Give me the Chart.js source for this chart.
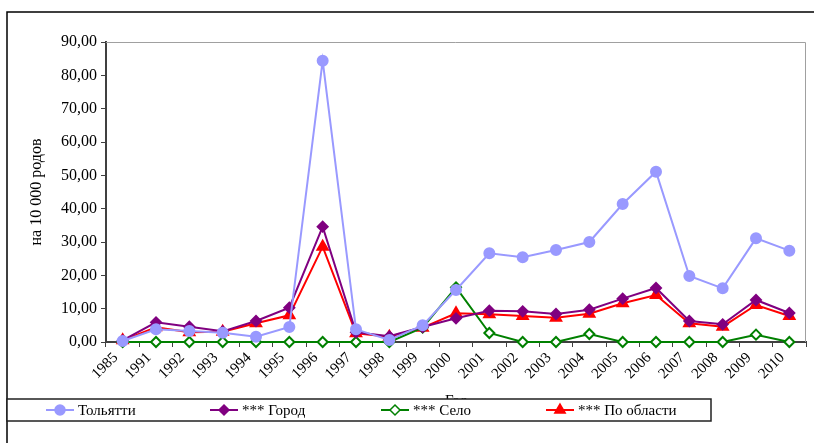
<!DOCTYPE html>
<html lang="ru">
<head>
    <meta charset="UTF-8">
    <title>Тольятти</title>
    <script src="https://cdn.jsdelivr.net/npm/chart.js"></script>
    <style>
        body { margin: 0; background: #fff; }
        canvas { display: block; }
    </style>
</head>
<body>
    <canvas id="chart" width="814" height="443"></canvas>

    <script>
        const years = ['1985', '1991', '1992', '1993', '1994', '1995', '1996', '1997', '1998', '1999',
                       '2000', '2001', '2002', '2003', '2004', '2005', '2006', '2007', '2008', '2009', '2010'];

        const tolyatti = [0.3, 3.8, 3.3, 2.8, 1.6, 4.5, 84.4, 3.8, 0.6, 5.0,
                          15.6, 26.6, 25.4, 27.6, 30.0, 41.4, 51.1, 19.8, 16.1, 31.1, 27.4];
        const gorod = [0.5, 5.9, 4.6, 3.2, 6.3, 10.3, 34.6, 2.9, 1.7, 4.5,
                       7.1, 9.4, 9.2, 8.4, 9.7, 13.0, 16.2, 6.3, 5.3, 12.6, 8.7];
        const selo = [0, 0, 0, 0, 0, 0, 0, 0, 0, 4.3,
                      16.4, 2.7, 0, 0, 2.4, 0, 0, 0, 0, 2.2, 0];
        const oblast = [0.5, 4.4, 2.9, 3.1, 5.6, 8.0, 28.6, 2.6, 1.6, 4.3,
                        8.6, 8.3, 7.8, 7.3, 8.5, 11.6, 14.1, 5.6, 4.6, 11.1, 7.8];

        const yMin = 0, yMax = 90, yStep = 10;

        const serif = 'Liberation Serif';

        // рамка области построения (серая сверху и справа)
        const frame = {
            id: 'frame',
            beforeDatasetsDraw(chart) {
                const { ctx, chartArea: a } = chart;
                ctx.save();
                ctx.strokeStyle = '#a0a0a0';
                ctx.lineWidth = 1;
                ctx.beginPath();
                ctx.moveTo(a.left, a.top + 0.5);
                ctx.lineTo(a.right - 0.5, a.top + 0.5);
                ctx.lineTo(a.right - 0.5, a.bottom);
                ctx.stroke();
                ctx.restore();
            },
            afterDraw(chart) {
                const ctx = chart.ctx;
                ctx.save();
                // внешняя рамка
                ctx.strokeStyle = '#000';
                ctx.lineWidth = 1.5;
                ctx.beginPath();
                ctx.moveTo(814, 12);
                ctx.lineTo(7, 12);
                ctx.lineTo(7, 443);
                ctx.stroke();

                // легенда
                ctx.fillStyle = '#fff';
                ctx.fillRect(7, 399, 704, 22);
                ctx.strokeStyle = '#202020';
                ctx.lineWidth = 1.5;
                ctx.strokeRect(7, 399, 704, 22);

                const items = [46, 210, 381, 546];
                const y = 410;
                chart.data.datasets.forEach((ds, i) => {
                    const x = items[i];
                    ctx.strokeStyle = ds.borderColor;
                    ctx.lineWidth = 2;
                    ctx.beginPath();
                    ctx.moveTo(x, y);
                    ctx.lineTo(x + 28, y);
                    ctx.stroke();
                    drawMarker(ctx, ds, x + 14, y);
                    ctx.fillStyle = '#000';
                    ctx.font = '15px "' + serif + '"';
                    ctx.textBaseline = 'middle';
                    ctx.textAlign = 'left';
                    ctx.fillText(ds.label, x + 32, y + 1);
                });
                ctx.restore();
            }
        };

        function drawMarker(ctx, ds, x, y) {
            const r = ds.pointRadius;
            ctx.fillStyle = ds.pointBackgroundColor;
            ctx.strokeStyle = ds.pointBorderColor;
            ctx.lineWidth = 1.5;
            ctx.beginPath();
            if (ds.pointStyle === 'circle') {
                ctx.arc(x, y, r, 0, Math.PI * 2);
            } else if (ds.pointStyle === 'rectRot') {
                ctx.moveTo(x, y - r);
                ctx.lineTo(x + r, y);
                ctx.lineTo(x, y + r);
                ctx.lineTo(x - r, y);
            } else {
                ctx.moveTo(x, y - r);
                ctx.lineTo(x + r * 0.866, y + r * 0.5);
                ctx.lineTo(x - r * 0.866, y + r * 0.5);
            }
            ctx.closePath();
            ctx.fill();
            ctx.stroke();
        }

        new Chart(document.getElementById('chart'), {
            type: 'line',
            data: {
                labels: years,
                datasets: [
                    {
                        label: 'Тольятти',
                        data: tolyatti,
                        borderColor: '#9999ff',
                        backgroundColor: '#9999ff',
                        pointBackgroundColor: '#9999ff',
                        pointBorderColor: '#9999ff',
                        pointStyle: 'circle',
                        pointRadius: 5,
                        borderWidth: 2,
                        clip: false
                    },
                    {
                        label: '*** Город',
                        data: gorod,
                        borderColor: '#800080',
                        backgroundColor: '#800080',
                        pointBackgroundColor: '#800080',
                        pointBorderColor: '#800080',
                        pointStyle: 'rectRot',
                        pointRadius: 5,
                        borderWidth: 2,
                        clip: false
                    },
                    {
                        label: '*** Село',
                        data: selo,
                        borderColor: '#008000',
                        backgroundColor: '#ffffff',
                        pointBackgroundColor: '#ffffff',
                        pointBorderColor: '#008000',
                        pointStyle: 'rectRot',
                        pointRadius: 5,
                        borderWidth: 2,
                        clip: false
                    },
                    {
                        label: '*** По области',
                        data: oblast,
                        borderColor: '#ff0000',
                        backgroundColor: '#ff0000',
                        pointBackgroundColor: '#ff0000',
                        pointBorderColor: '#ff0000',
                        pointStyle: 'triangle',
                        pointRadius: 6,
                        borderWidth: 2,
                        clip: false
                    }
                ]
            },
            options: {
                responsive: false,
                animation: false,
                layout: { padding: { top: 42, right: 7, left: 0, bottom: 0 } },
                elements: { line: { tension: 0 }, point: { borderWidth: 1.5 } },
                plugins: {
                    legend: { display: false },
                    tooltip: { enabled: false }
                },
                scales: {
                    x: {
                        offset: true,
                        afterFit(scale) { scale.height = 101; },
                        grid: {
                            offset: true,
                            drawOnChartArea: false,
                            drawTicks: true,
                            tickLength: 5,
                            color: '#404040'
                        },
                        border: { color: '#404040', width: 2 },
                        ticks: {
                            autoSkip: false,
                            maxRotation: 45,
                            minRotation: 45,
                            labelOffset: -7,
                            padding: 2,
                            color: '#000',
                            font: { family: serif, size: 15 }
                        },
                        title: {
                            display: true,
                            text: 'Год',
                            color: '#000',
                            font: { family: serif, size: 15 },
                            padding: { top: 0, bottom: 33 }
                        }
                    },
                    y: {
                        min: yMin,
                        max: yMax,
                        afterFit(scale) { scale.width = 106; },
                        grid: {
                            drawOnChartArea: false,
                            drawTicks: true,
                            tickLength: 5,
                            color: '#404040'
                        },
                        border: { color: '#404040', width: 2 },
                        ticks: {
                            stepSize: yStep,
                            padding: 4,
                            color: '#000',
                            font: { family: serif, size: 16 },
                            callback: v => v.toFixed(2).replace('.', ',')
                        },
                        title: {
                            display: true,
                            text: 'на 10 000 родов',
                            color: '#000',
                            font: { family: serif, size: 16 },
                            padding: { top: 27, bottom: 0 }
                        }
                    }
                }
            },
            plugins: [frame]
        });
    </script>
</body>
</html>
